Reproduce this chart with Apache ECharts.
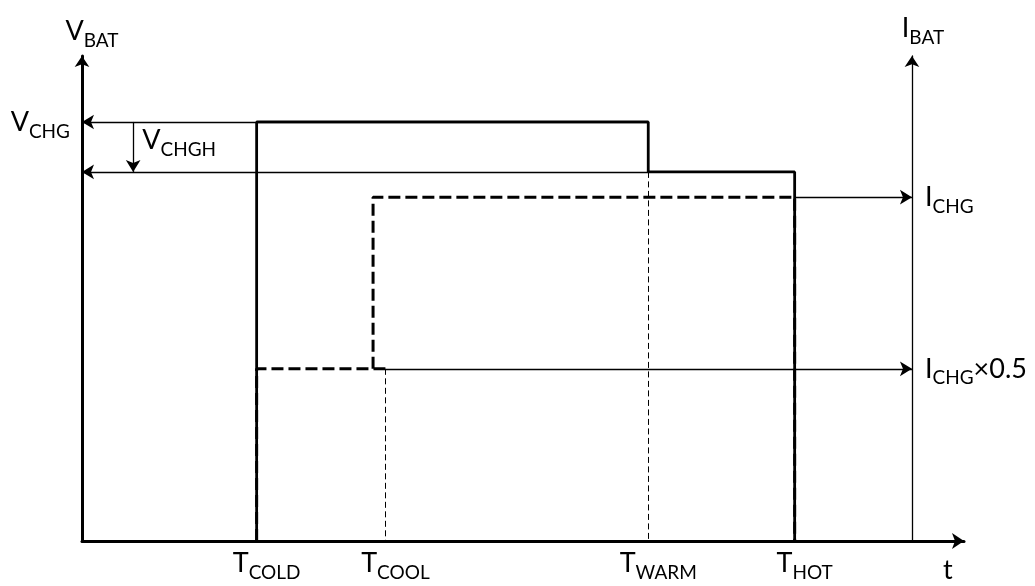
<!DOCTYPE html>
<html>
<head>
<meta charset="utf-8">
<script src="https://cdn.jsdelivr.net/npm/echarts@6/dist/echarts.min.js"></script>
<style>html,body{margin:0;padding:0;background:#fff}#c{width:1035px;height:586px}</style>
</head>
<body>
<div id="c"></div>
<script>
// ---- levels on the vertical scale (0..100) ----
const V_CHG = 86.4;
const V_CHGH = 76.1;
const I_CHG = 70.9;
const I_HALF = 35.5;
// ---- temperature thresholds on the t axis (0..100) ----
const T_COLD = 19.8;
const T_ISTEP = 33.0;
const T_COOL = 34.4;
const T_WARM = 64.2;
const T_HOT = 80.8;
const T_IAXIS = 94.1;      // where the I_BAT axis stands
const T_VCHGH_ARROW = 5.8; // where the V_CHGH hysteresis arrow stands
const X_MIN = 0, X_MAX = 100, Y_MIN = 0, Y_MAX = 100;

// ---- series (V_BAT solid, I_BAT dashed) ----
const vbatT = [T_COLD, T_COLD, T_WARM, T_WARM, T_HOT, T_HOT];
const vbatV = [0, V_CHG, V_CHG, V_CHGH, V_CHGH, 0];
const ibatLowT = [T_COLD, T_COLD, T_COOL];
const ibatLowI = [0, I_HALF, I_HALF];
const ibatHighT = [T_ISTEP, T_ISTEP, T_HOT, T_HOT];
const ibatHighI = [I_HALF, I_CHG, I_CHG, 0];

// ---- tick labels ----
const xTickValues = [T_COLD, T_COOL, T_WARM, T_HOT];
const xTickMain = ['T', 'T', 'T', 'T'];
const xTickSub = ['COLD', 'COOL', 'WARM', 'HOT'];
const vTickValues = [V_CHG];
const vTickMain = ['V'];
const vTickSub = ['CHG'];
const iTickValues = [I_CHG, I_HALF];
const iTickMain = ['I', 'I'];
const iTickSub = ['CHG', 'CHG'];
const iTickTail = ['', '×0.5'];
const vAxisName = ['V', 'BAT'];
const iAxisName = ['I', 'BAT'];
const tAxisName = 't';
const hystLabel = ['V', 'CHGH'];

const FONT = 'Lato, "Open Sans", sans-serif';
const rich = {
  m: {fontFamily: FONT, fontSize: 27, lineHeight: 28, color: '#000', verticalAlign: 'middle'},
  s: {fontFamily: FONT, fontSize: 19, lineHeight: 19, color: '#000', verticalAlign: 'middle', padding: [19, 0, 0, 0]}
};
function subText(main, sub, tail) {
  return '{m|' + main + '}{s|' + sub + '}' + (tail ? '{m|' + tail + '}' : '');
}
function nearest(values, v) {
  let b = 0;
  for (let i = 1; i < values.length; i++) if (Math.abs(values[i] - v) < Math.abs(values[b] - v)) b = i;
  return b;
}
function zip(a, b) { return a.map((x, i) => [x, b[i]]); }

const chart = echarts.init(document.getElementById('c'));
const GRID = {left: 82, right: 71, top: 56, bottom: 45};
const gridWidth = chart.getWidth() - GRID.left - GRID.right;
const iAxisOffset = (T_IAXIS - X_MAX) / (X_MAX - X_MIN) * gridWidth;

const thick = 3;
chart.setOption({
  animation: false,
  backgroundColor: '#fff',
  textStyle: {fontFamily: FONT, color: '#000'},
  grid: Object.assign({containLabel: false, outerBoundsMode: 'none'}, GRID),
  xAxis: {
    type: 'value', min: X_MIN, max: X_MAX,
    axisLine: {show: true, onZero: false, symbol: ['none', 'arrow'], symbolSize: [12, 12],
      lineStyle: {color: '#000', width: thick}},
    axisTick: {show: false}, splitLine: {show: false},
    axisLabel: {
      customValues: xTickValues, margin: 8, padding: [0, 0, 0, 20], rich: rich,
      formatter: v => { const i = nearest(xTickValues, v); return subText(xTickMain[i], xTickSub[i]); }
    },
    name: tAxisName, nameLocation: 'end', nameGap: -21,
    nameTextStyle: {fontFamily: FONT, fontSize: 27, lineHeight: 28, color: '#000', verticalAlign: 'top', padding: [15, 0, 0, 0]}
  },
  yAxis: [{
    type: 'value', min: Y_MIN, max: Y_MAX, position: 'left',
    axisLine: {show: true, onZero: false, symbol: ['none', 'arrow'], symbolSize: [11, 11],
      lineStyle: {color: '#000', width: thick}},
    axisTick: {show: false}, splitLine: {show: false},
    axisLabel: {
      customValues: vTickValues, margin: 12, rich: rich,
      formatter: v => { const i = nearest(vTickValues, v); return subText(vTickMain[i], vTickSub[i]); }
    },
    name: subText(vAxisName[0], vAxisName[1]), nameLocation: 'end', nameGap: 11,
    nameTextStyle: {rich: rich, padding: [0, 0, 0, 20]}
  }, {
    type: 'value', min: Y_MIN, max: Y_MAX, position: 'right', offset: iAxisOffset,
    axisLine: {show: true, onZero: false, symbol: ['none', 'arrow'], symbolSize: [11, 11],
      lineStyle: {color: '#000', width: 1.3}},
    axisTick: {show: false}, splitLine: {show: false},
    axisLabel: {
      customValues: iTickValues, margin: 13, rich: rich,
      formatter: v => { const i = nearest(iTickValues, v); return subText(iTickMain[i], iTickSub[i], iTickTail[i]); }
    },
    name: subText(iAxisName[0], iAxisName[1]), nameLocation: 'end', nameGap: 14,
    nameTextStyle: {rich: rich, padding: [0, 0, 0, 22]}
  }],
  series: [{
    name: 'V_BAT', type: 'line', data: zip(vbatT, vbatV), symbol: 'none', z: 4,
    lineStyle: {color: '#000', width: 2.8}, silent: true
  }, {
    name: 'I_BAT low', type: 'line', yAxisIndex: 1, data: zip(ibatLowT, ibatLowI), symbol: 'none', z: 3,
    lineStyle: {color: '#000', width: 3, type: [12, 5]}, silent: true
  }, {
    name: 'I_BAT high', type: 'line', yAxisIndex: 1, data: zip(ibatHighT, ibatHighI), symbol: 'none', z: 3,
    lineStyle: {color: '#000', width: 3, type: [12, 5]}, silent: true
  }, {
    name: 'arrows', type: 'line', data: [], silent: true,
    markLine: {
      silent: true, animation: false,
      symbol: ['none', 'arrow'], symbolSize: [11, 12],
      label: {show: false}, emphasis: {disabled: true},
      lineStyle: {color: '#000', width: 1.3, type: 'solid'},
      data: [
        [{coord: [T_WARM, V_CHG]}, {coord: [X_MIN, V_CHG]}],
        [{coord: [T_WARM, V_CHGH]}, {coord: [X_MIN, V_CHGH]}],
        [{coord: [T_VCHGH_ARROW, V_CHG]}, {coord: [T_VCHGH_ARROW, V_CHGH]}],
        [{coord: [T_HOT, I_CHG]}, {coord: [T_IAXIS, I_CHG]}],
        [{coord: [T_COOL, I_HALF]}, {coord: [T_IAXIS, I_HALF]}]
      ]
    }
  }, {
    name: 'guides', type: 'line', data: [], silent: true,
    markLine: {
      silent: true, animation: false, symbol: ['none', 'none'],
      label: {show: false}, emphasis: {disabled: true},
      lineStyle: {color: '#000', width: 1, type: [6, 3.5]},
      data: [
        [{coord: [T_COOL, I_HALF]}, {coord: [T_COOL, Y_MIN]}],
        [{coord: [T_WARM, V_CHGH]}, {coord: [T_WARM, Y_MIN]}]
      ]
    }
  }]
});

const p = chart.convertToPixel({xAxisIndex: 0, yAxisIndex: 0}, [T_VCHGH_ARROW, V_CHGH]);
chart.setOption({
  graphic: [{
    type: 'text', x: p[0] + 9, y: p[1] - 46, silent: true,
    style: {text: subText(hystLabel[0], hystLabel[1]), rich: rich, align: 'left', verticalAlign: 'top'}
  }]
});
</script>
</body>
</html>
